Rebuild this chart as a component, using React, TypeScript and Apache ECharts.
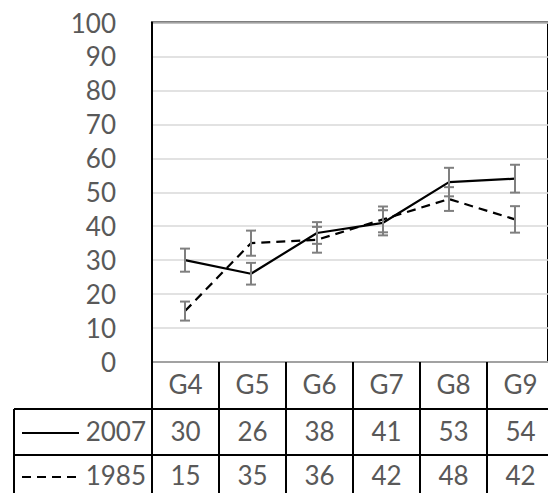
import React, { useEffect, useRef } from "react";
import * as echarts from "echarts";

// Grade categories and the two survey years
const categories = ["G4", "G5", "G6", "G7", "G8", "G9"];
const seriesNames = ["2007", "1985"];
const values2007 = [30, 26, 38, 41, 53, 54];
const values1985 = [15, 35, 36, 42, 48, 42];
// Half-widths of the error bars
const err2007 = [3.4, 3.2, 3.2, 3.7, 4.2, 4.1];
const err1985 = [2.8, 3.7, 3.8, 3.8, 3.5, 3.9];
// Value axis
const yMin = 0;
const yMax = 100;
const yStep = 10;

const W = 548;
const H = 493;
const GRID_LEFT = 152;
const COL_W = 67;
const GRID_TOP = 22.5;
const GRID_BOTTOM = 362;
const ROW_LINES = [GRID_BOTTOM, 409, 455, 501];
const TABLE_LEFT = 14;
const FONT = "Lato, 'Open Sans', sans-serif";
const TEXT_COLOR = "#595959";
const FONT_SIZE = 26;

function errorSeries(name: string, vals: number[], errs: number[]) {
  return {
    type: "custom",
    name: name + " error",
    data: vals.map((v, i) => [i, v - errs[i], v + errs[i]]),
    encode: { x: 0, y: [1, 2] },
    z: 3,
    renderItem: (_params: any, api: any) => {
      const idx = api.value(0);
      const lo = api.coord([idx, api.value(1)]);
      const hi = api.coord([idx, api.value(2)]);
      const hw = 5;
      const style = { stroke: "#7f7f7f", lineWidth: 2 };
      return {
        type: "group",
        children: [
          { type: "line", shape: { x1: lo[0], y1: lo[1], x2: hi[0], y2: hi[1] }, style },
          { type: "line", shape: { x1: lo[0] - hw, y1: lo[1], x2: lo[0] + hw, y2: lo[1] }, style },
          { type: "line", shape: { x1: hi[0] - hw, y1: hi[1], x2: hi[0] + hw, y2: hi[1] }, style },
        ],
      };
    },
  };
}

function tableGraphics() {
  const els: any[] = [];
  const right = GRID_LEFT + COL_W * categories.length;
  const line = (x1: number, y1: number, x2: number, y2: number) => ({
    type: "line",
    shape: { x1, y1, x2, y2 },
    style: { stroke: "#000", lineWidth: 2 },
    z: 10,
  });
  // horizontal rules of the data rows
  els.push(line(TABLE_LEFT, ROW_LINES[1], right, ROW_LINES[1]));
  els.push(line(TABLE_LEFT, ROW_LINES[2], right, ROW_LINES[2]));
  els.push(line(TABLE_LEFT, ROW_LINES[3], right, ROW_LINES[3]));
  // vertical rules
  els.push(line(TABLE_LEFT, ROW_LINES[1], TABLE_LEFT, ROW_LINES[3]));
  for (let k = 0; k <= categories.length; k++) {
    const x = GRID_LEFT + COL_W * k;
    els.push(line(x, GRID_BOTTOM, x, ROW_LINES[3]));
  }
  const textStyle = (text: string, x: number, y: number, align: string) => ({
    type: "text",
    x,
    y,
    z: 10,
    style: {
      text,
      fill: TEXT_COLOR,
      font: `${FONT_SIZE}px ${FONT}`,
      textAlign: align,
      textVerticalAlign: "middle",
    },
  });
  const rowY = [384, 431, 475];
  categories.forEach((c, i) => {
    els.push(textStyle(c, GRID_LEFT + COL_W * (i + 0.5), rowY[0], "center"));
  });
  [values2007, values1985].forEach((vals, r) => {
    vals.forEach((v, i) => {
      els.push(textStyle(String(v), GRID_LEFT + COL_W * (i + 0.5), rowY[r + 1], "center"));
    });
    els.push(textStyle(seriesNames[r], 146, rowY[r + 1], "right"));
  });
  // legend keys
  els.push({
    type: "line",
    shape: { x1: 22, y1: 433, x2: 79, y2: 433 },
    style: { stroke: "#000", lineWidth: 2.2 },
    z: 10,
  });
  els.push({
    type: "line",
    shape: { x1: 22, y1: 477, x2: 80, y2: 477 },
    style: { stroke: "#000", lineWidth: 2.2, lineDash: [9, 6] },
    z: 10,
  });
  return els;
}

export default function App() {
  const ref = useRef<HTMLDivElement>(null);
  useEffect(() => {
    if (!ref.current) return;
    const chart = echarts.init(ref.current, null, { renderer: "svg" });
    chart.setOption({
      animation: false,
      backgroundColor: "#fff",
      grid: {
        left: GRID_LEFT,
        top: GRID_TOP,
        width: COL_W * categories.length,
        height: GRID_BOTTOM - GRID_TOP,
        show: true,
        borderColor: "#000",
        borderWidth: 2,
        containLabel: false,
      },
      xAxis: {
        type: "category",
        data: categories,
        boundaryGap: true,
        axisLine: { show: false },
        axisTick: { show: false },
        axisLabel: { show: false },
        splitLine: { show: false },
      },
      yAxis: {
        type: "value",
        min: yMin,
        max: yMax,
        interval: yStep,
        axisLine: { show: true, lineStyle: { color: "#000", width: 2 } },
        axisTick: { show: false },
        axisLabel: {
          color: TEXT_COLOR,
          fontSize: FONT_SIZE,
          fontFamily: FONT,
          margin: 36,
        },
        splitLine: { show: true, lineStyle: { color: "#d9d9d9", width: 1.5 } },
      },
      series: [
        {
          type: "line",
          name: seriesNames[0],
          data: values2007,
          showSymbol: false,
          symbol: "none",
          lineStyle: { color: "#000", width: 2.2 },
          z: 2,
        },
        {
          type: "line",
          name: seriesNames[1],
          data: values1985,
          showSymbol: false,
          symbol: "none",
          lineStyle: { color: "#000", width: 2.2, type: [9, 6] },
          z: 2,
        },
        errorSeries(seriesNames[0], values2007, err2007),
        errorSeries(seriesNames[1], values1985, err1985),
      ],
      graphic: tableGraphics(),
    });
    return () => chart.dispose();
  }, []);
  return (
    <div
      ref={ref}
      style={{ position: "absolute", left: 0, top: 0, width: W, height: H, overflow: "hidden" }}
    />
  );
}
